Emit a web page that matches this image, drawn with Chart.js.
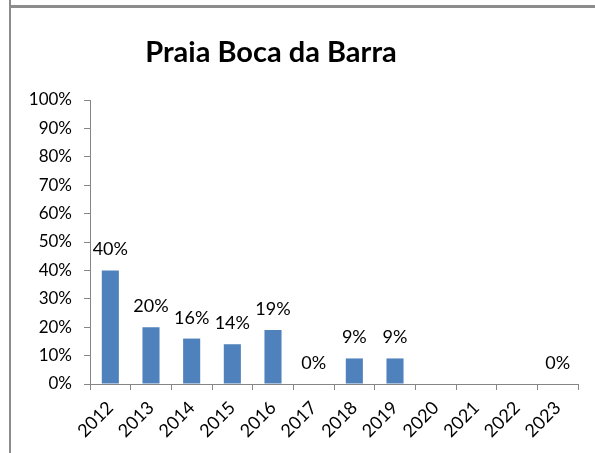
<!DOCTYPE html>
<html lang="pt">
<head>
    <meta charset="UTF-8">
    <title>Praia Boca da Barra</title>
    <script src="https://cdn.jsdelivr.net/npm/chart.js"></script>
    <style>
        html, body {
            margin: 0;
            padding: 0;
            background: #fff;
        }
        #wrap {
            position: relative;
            width: 595px;
            height: 453px;
            overflow: hidden;
        }
        #frame-top {
            position: absolute;
            left: 9px;
            top: 5px;
            width: 586px;
            height: 3px;
            background: #8c8c8c;
        }
        #frame-left {
            position: absolute;
            left: 9px;
            top: 0;
            width: 2px;
            height: 453px;
            background: #8c8c8c;
        }
        #title {
            position: absolute;
            left: 0;
            top: 36px;
            width: 542px;
            text-align: center;
            font: bold 29px Lato, sans-serif;
            line-height: 29px;
            color: #000;
        }
        canvas {
            position: absolute;
            left: 0;
            top: 0;
        }
    </style>
</head>
<body>
    <div id="wrap">
        <canvas id="myChart" width="595" height="453"></canvas>
        <div id="frame-top"></div>
        <div id="frame-left"></div>
        <div id="title">Praia Boca da Barra</div>
    </div>
    <script>
        const years = ['2012', '2013', '2014', '2015', '2016', '2017', '2018', '2019', '2020', '2021', '2022', '2023'];
        const percentages = [40, 20, 16, 14, 19, 0, 9, 9, null, null, null, 0];
        const yTicks = [0, 10, 20, 30, 40, 50, 60, 70, 80, 90, 100];

        const axisColor = '#868686';
        const barColor = '#4F81BD';

        // draws the value above each bar (no datalabels plugin available)
        const valueLabels = {
            id: 'valueLabels',
            afterDatasetsDraw(chart) {
                const ctx = chart.ctx;
                const meta = chart.getDatasetMeta(0);
                ctx.save();
                ctx.font = '18px Lato, sans-serif';
                ctx.fillStyle = '#000';
                ctx.textAlign = 'center';
                ctx.textBaseline = 'alphabetic';
                meta.data.forEach((bar, i) => {
                    const v = percentages[i];
                    if (v === null) return;
                    ctx.fillText(v + '%', bar.x, bar.y - 15);
                });
                ctx.restore();
            }
        };

        const ctx = document.getElementById('myChart').getContext('2d');
        const myChart = new Chart(ctx, {
            type: 'bar',
            data: {
                labels: years,
                datasets: [{
                    data: percentages,
                    backgroundColor: barColor,
                    borderWidth: 0,
                    barPercentage: 0.42,
                    categoryPercentage: 1
                }]
            },
            options: {
                responsive: false,
                animation: false,
                layout: {
                    padding: { top: 100, right: 17, bottom: 0, left: 0 }
                },
                plugins: {
                    legend: { display: false },
                    title: { display: false },
                    tooltip: { enabled: false }
                },
                scales: {
                    x: {
                        grid: {
                            display: true,
                            drawOnChartArea: false,
                            drawTicks: true,
                            tickLength: 6,
                            color: axisColor,
                            offset: true
                        },
                        border: { color: axisColor, width: 1 },
                        ticks: {
                            color: '#000',
                            font: { family: 'Lato', size: 18 },
                            minRotation: 45,
                            maxRotation: 45,
                            autoSkip: false,
                            padding: 7
                        },
                        afterFit(scale) {
                            scale.height = 69;
                        }
                    },
                    y: {
                        min: 0,
                        max: 100,
                        afterBuildTicks(scale) {
                            scale.ticks = yTicks.map(v => ({ value: v }));
                        },
                        grid: {
                            display: true,
                            drawOnChartArea: false,
                            drawTicks: true,
                            tickLength: 6,
                            color: axisColor
                        },
                        border: { color: axisColor, width: 1 },
                        ticks: {
                            color: '#000',
                            font: { family: 'Lato', size: 17 },
                            padding: 12,
                            callback: v => v + '%'
                        },
                        afterFit(scale) {
                            scale.width = 90;
                        }
                    }
                }
            },
            plugins: [valueLabels]
        });
    </script>
</body>
</html>
